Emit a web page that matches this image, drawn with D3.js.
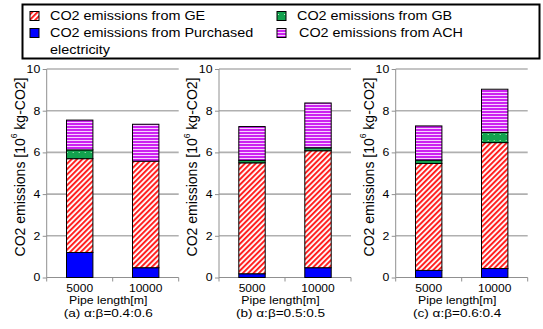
<!DOCTYPE html>
<html><head><meta charset="utf-8">
<script src="https://cdn.jsdelivr.net/npm/d3@7/dist/d3.min.js"></script>
<style>
body{margin:0;background:#fff;}
text{font-family:"Liberation Sans",Arial,sans-serif;fill:#000;}
</style></head>
<body><svg id="c" width="543" height="329"></svg>
<script>
const categories = ["5000", "10000"];
const panels = ["(a) α:β=0.4:0.6", "(b) α:β=0.5:0.5", "(c) α:β=0.6:0.4"];
const seriesNames = ["CO2 emissions from Purchased electricity", "CO2 emissions from GE", "CO2 emissions from GB", "CO2 emissions from ACH"];
// values per panel: [5000, 10000], unit 10^6 kg-CO2
const purchased = [[1.20, 0.47], [0.18, 0.47], [0.34, 0.43]];
const ge        = [[4.50, 5.11], [5.32, 5.61], [5.13, 6.04]];
const gb        = [[0.42, 0.00], [0.12, 0.14], [0.16, 0.49]];
const ach       = [[1.43, 1.77], [1.62, 2.15], [1.64, 2.07]];
const yTicks = [0, 2, 4, 6, 8, 10];

const SX = 1.17; // horizontal stretch of the original figure's text
const svg = d3.select("#c");
const defs = svg.append("defs");
// GE hatch
const pGE = defs.append("pattern").attr("id","pGE").attr("patternUnits","userSpaceOnUse")
  .attr("width",3.8).attr("height",10).attr("patternTransform","rotate(45)");
pGE.append("rect").attr("width",3.8).attr("height",10).attr("fill","#fff");
pGE.append("rect").attr("width",2).attr("height",10).attr("fill","#ff2020");
// ACH stripes
const pACH = defs.append("pattern").attr("id","pACH").attr("patternUnits","userSpaceOnUse")
  .attr("width",10).attr("height",3);
pACH.append("rect").attr("width",10).attr("height",3).attr("fill","#f8d0ff");
pACH.append("rect").attr("width",10).attr("height",2).attr("fill","#cc22f0");
// GB dots
const pGB = defs.append("pattern").attr("id","pGB").attr("patternUnits","userSpaceOnUse")
  .attr("width",6).attr("height",6);
pGB.append("rect").attr("width",6).attr("height",6).attr("fill","#12a24e");
pGB.append("rect").attr("x",2).attr("y",2).attr("width",1).attr("height",1).attr("fill","#bff0c8");

const fills = ["#0000ff", "url(#pGE)", "url(#pGB)", "url(#pACH)"];
const data = [purchased, ge, gb, ach];

const y = d3.scaleLinear().domain([0,10]).range([277.5, 69]);
const axisX = [46.7, 219, 395.7];
const W = 132;

function stext(parent, x, yy, txt, size, anchor, sx) {
  return parent.append("text").attr("transform",`translate(${x},${yy}) scale(${sx || SX},1)`)
    .attr("text-anchor", anchor || "middle").attr("font-size", size + "px").text(txt);
}

panels.forEach((cap, pi) => {
  const g = svg.append("g").attr("transform", `translate(${axisX[pi]},0)`);
  const x = d3.scaleBand().domain(categories).range([0, W]).paddingInner(0.6).paddingOuter(0.3);
  // grid
  g.selectAll(".grid").data(yTicks.filter(d=>d>0)).enter().append("line")
    .attr("x1",0).attr("x2",W).attr("y1",d=>y(d)).attr("y2",d=>y(d))
    .attr("stroke","#b0b0b0").attr("stroke-width",1.6);
  // y axis
  const ya = g.append("g").call(d3.axisLeft(y).tickValues(yTicks).tickSize(4).tickPadding(3));
  ya.select(".domain").attr("stroke","#909090").attr("d", `M0,${y(0)}V${y(10)}`);
  ya.selectAll(".tick line").attr("stroke","#909090");
  ya.selectAll("text").attr("x",0).attr("font-size","10.5px")
    .attr("font-family","Liberation Sans, Arial, sans-serif")
    .attr("transform",`translate(-6.5,0) scale(${SX},1)`);
  // x axis
  const xa = g.append("g").attr("transform",`translate(0,${y(0)})`)
    .call(d3.axisBottom(x).tickSize(0).tickPadding(7.3));
  xa.select(".domain").attr("stroke","#909090").attr("d", `M0,0H${W}`);
  xa.selectAll("text").attr("font-size","10.3px")
    .attr("font-family","Liberation Sans, Arial, sans-serif")
    .attr("transform",`scale(${SX},1)`);
  [0, W/2, W].forEach(t => g.append("line").attr("x1",t).attr("x2",t)
    .attr("y1",y(0)).attr("y2",y(0)+4).attr("stroke","#909090"));
  // bars
  categories.forEach((c, ci) => {
    let base = 0;
    data.forEach((s, si) => {
      const v = s[pi][ci];
      if (v > 0) {
        g.append("rect").attr("x", x(c)).attr("width", x.bandwidth())
          .attr("y", y(base+v)).attr("height", y(base)-y(base+v))
          .attr("fill", fills[si]).attr("stroke","#000").attr("stroke-width",1);
      }
      base += v;
    });
  });
  // labels
  const yl = g.append("text").attr("transform",`translate(-26,167) rotate(-90) scale(1,1.08)`)
    .attr("text-anchor","middle").attr("dominant-baseline","middle").attr("font-size","14px");
  yl.append("tspan").text("CO2 emissions [10");
  yl.append("tspan").attr("font-size","8.5px").attr("dy",-5).text("6");
  yl.append("tspan").attr("dy",5).text(" kg-CO2]");
  stext(g, 61.5, 303.6, "Pipe length[m]", 10.5);
  stext(g, 61.5, 316.6, cap, 11.6);
});

// legend
const lg = svg.append("g");
lg.append("rect").attr("x",22.5).attr("y",4.5).attr("width",517).attr("height",54)
  .attr("fill","#fff").attr("stroke","#000").attr("stroke-width",2);
const legendItems = [
  {fill:fills[1], x:30, y:16, tx:50, lines:["CO2 emissions from GE"]},
  {fill:fills[0], x:30, y:33, tx:50, lines:["CO2 emissions from Purchased","electricity"]},
  {fill:fills[2], x:277, y:16, tx:297, lines:["CO2 emissions from GB"]},
  {fill:fills[3], x:277, y:33, tx:299, lines:["CO2 emissions from ACH"]}
];
legendItems.forEach(it => {
  lg.append("rect").attr("x",it.x).attr("y",it.y-4.5).attr("width",9).attr("height",9)
    .attr("fill",it.fill).attr("stroke","#000").attr("stroke-width",1);
  it.lines.forEach((l, li) => {
    stext(lg, it.tx, it.y + li*16.5 + 4.3, l, 12, "start", 1.2);
  });
});
</script></body></html>
